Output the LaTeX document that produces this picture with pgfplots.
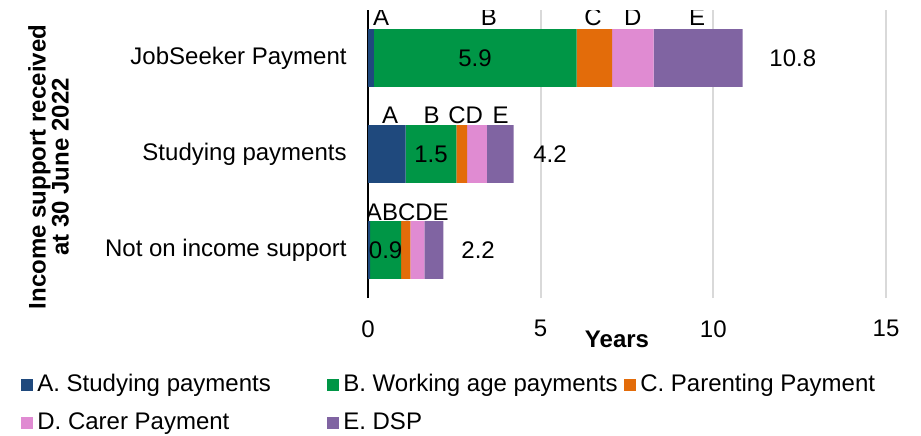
\documentclass[border=0pt]{standalone}
\usepackage{fontspec}
\setmainfont{Liberation Sans}
\usepackage{pgfplots}
\pgfplotsset{compat=1.18}
\definecolor{cA}{RGB}{31,73,125}
\definecolor{cB}{RGB}{0,150,70}
\definecolor{cC}{RGB}{227,108,10}
\definecolor{cD}{RGB}{224,139,210}
\definecolor{cE}{RGB}{128,100,162}
\definecolor{gridc}{RGB}{217,217,217}
\begin{document}
\fontsize{12bp}{14bp}\selectfont
\begin{tikzpicture}
\begin{axis}[
  at={(184bp,-149bp)}, anchor=south west,
  scale only axis, width=259bp, height=144bp,
  xbar stacked, bar width=0.6,
  xmin=0, xmax=15, ymin=-0.5, ymax=2.5,
  xtick={0,5,10,15}, ytick={0,1,2},
  yticklabels={Not on income support, Studying payments, JobSeeker Payment},
  /pgf/number format/assume math mode=true,
  major tick length=0pt,
  xmajorgrids, major grid style={draw=gridc, line width=1bp},
  axis lines*=left,
  x axis line style={draw=none},
  y axis line style={draw=black, line width=1bp},
  xticklabel style={yshift=-7bp},
  yticklabel style={xshift=-6.5bp},
  xlabel={Years},
  xlabel style={at={(axis description cs:0.4807,-0.0868)}, anchor=north, font=\bfseries},
  ylabel={Income support received\\at 30 June 2022},
  ylabel style={at={(axis description cs:-0.6168,0.4549)}, anchor=center, align=center, font=\bfseries\fontsize{12bp}{11.5bp}\selectfont},
  legend columns=3,
  legend cell align=left,
  legend image code/.code={\fill[#1] (0bp,-3bp) rectangle (6bp,3bp);},
  legend style={draw=none, fill=none, inner xsep=0pt, inner ysep=0pt, row sep=4.8bp,
    at={(axis description cs:-0.6699,-0.2507)}, anchor=north west},
]
\addplot[fill=cA, draw=none] coordinates {(0.17,2) (1.09,1) (0.06,0)};
\addlegendentry{\makebox[143bp][l]{A. Studying payments}}
\addplot[fill=cB, draw=none] coordinates {(5.87,2) (1.47,1) (0.90,0)};
\addlegendentry{\makebox[138.5bp][l]{B. Working age payments}}
\addplot[fill=cC, draw=none] coordinates {(1.03,2) (0.31,1) (0.27,0)};
\addlegendentry{C. Parenting Payment}
\addplot[fill=cD, draw=none] coordinates {(1.20,2) (0.57,1) (0.40,0)};
\addlegendentry{\makebox[143bp][l]{D. Carer Payment}}
\addplot[fill=cE, draw=none] coordinates {(2.58,2) (0.78,1) (0.55,0)};
\addlegendentry{\makebox[138.5bp][l]{E. DSP}}
% segment letters
\node at (axis cs:0.38,2.42) {A};
\node at (axis cs:3.50,2.42) {B};
\node at (axis cs:6.52,2.42) {C};
\node at (axis cs:7.67,2.42) {D};
\node at (axis cs:9.53,2.42) {E};
\node at (axis cs:0.64,1.40) {A};
\node at (axis cs:1.84,1.40) {B};
\node at (axis cs:2.58,1.40) {C};
\node at (axis cs:3.08,1.40) {D};
\node at (axis cs:3.84,1.40) {E};
\node at (axis cs:0.17,0.39) {A};
\node at (axis cs:0.64,0.39) {B};
\node at (axis cs:1.12,0.39) {C};
\node at (axis cs:1.62,0.39) {D};
\node at (axis cs:2.10,0.39) {E};
% value positions
\coordinate (v1) at (axis cs:3.10,2);
\coordinate (v2) at (axis cs:1.825,1);
\coordinate (v3) at (axis cs:0.51,0);
\node at (axis cs:12.3,2) {10.8};
\node at (axis cs:5.27,1) {4.2};
\node at (axis cs:3.19,0) {2.2};
\end{axis}
\node at (v1) {5.9};
\node at (v2) {1.5};
\node at (v3) {0.9};
\pgfresetboundingbox
\path[use as bounding box] (0,0) rectangle (460.5bp,-218bp);
\end{tikzpicture}
\end{document}
